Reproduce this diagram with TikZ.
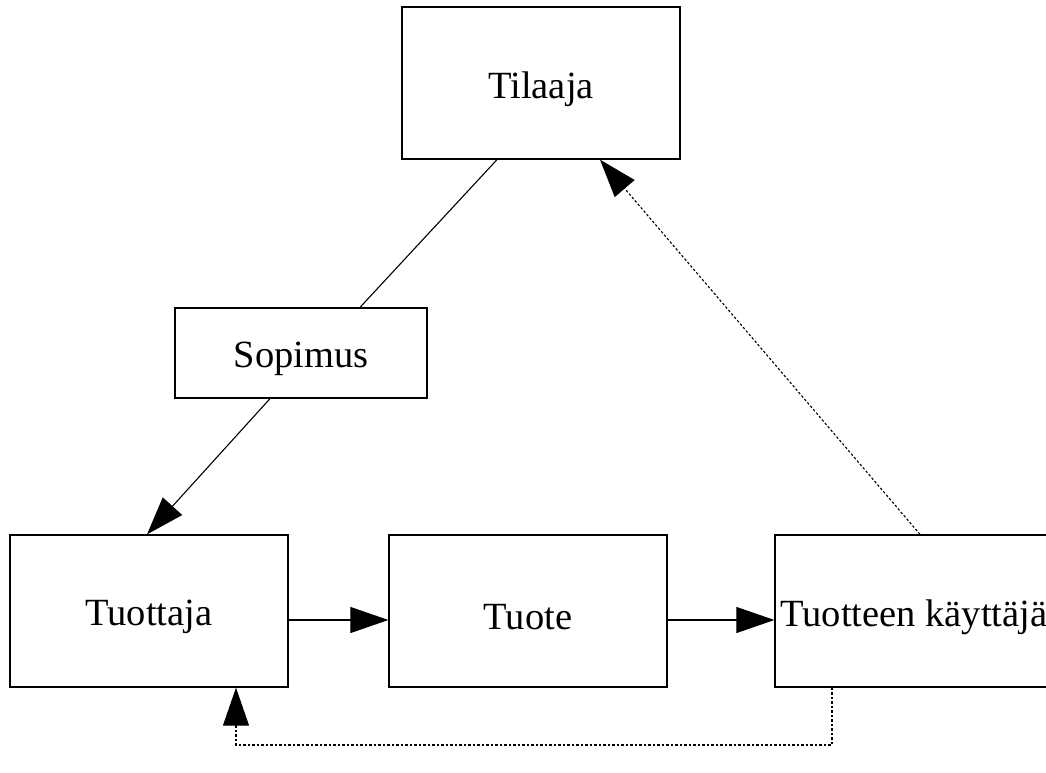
\documentclass[tikz,border=0pt]{standalone}
\usepackage{fontspec}
\setmainfont{Liberation Serif}
\usetikzlibrary{arrows.meta,calc}
\newcommand{\boxlbl}[1]{\raisebox{-6pt}[\height][\depth]{#1}}
\begin{document}
\begin{tikzpicture}[x=1pt,y=-1pt,
  box/.style={draw, line width=1.3pt, rectangle, minimum width=278pt, minimum height=152pt, inner sep=0pt, font=\fontsize{38.5}{46}\selectfont},
  smallbox/.style={box, minimum width=252pt, minimum height=90pt},
  conn/.style={line width=1.1pt},
  arr/.style={conn, -{Triangle[length=38pt,width=26pt]}},
  dots/.style={line width=1.1pt, dash pattern=on 2.5pt off 2pt}
]
\useasboundingbox (0,0) rectangle (1046,773);
\clip (0,0) rectangle (1046,773);
\node[box] (til) at (541,83) {\boxlbl{Tilaaja}};
\node[smallbox] (sop) at (301,353) {\boxlbl{Sopimus}};
\node[box] (tuo) at (149,611) {\boxlbl{Tuottaja}};
\node[box] (tte) at (528,611) {\boxlbl{Tuote}};
\node[box] (kay) at (914,611) {\boxlbl{Tuotteen käyttäjä}};
\draw[conn] ([xshift=-44pt]til.south) -- ([xshift=59pt]sop.north);
\draw[arr] ([xshift=-31pt]sop.south) -- ([xshift=-2pt]tuo.north);
\draw[arr] (tuo.east |- 0,620) -- (tte.west |- 0,620);
\draw[arr] (tte.east |- 0,620) -- (kay.west |- 0,620);
\draw[dots, -{Triangle[length=38pt,width=26pt]}] ([xshift=6pt]kay.north) -- ([xshift=59pt]til.south);
\coordinate (bl) at ([xshift=87pt]tuo.south);
\coordinate (br) at ([xshift=-82pt]kay.south);
\draw[dots, -{Triangle[length=38pt,width=26pt]}] (br) -- (br |- 0,745) -- (bl |- 0,745) -- (bl);
\end{tikzpicture}
\end{document}
